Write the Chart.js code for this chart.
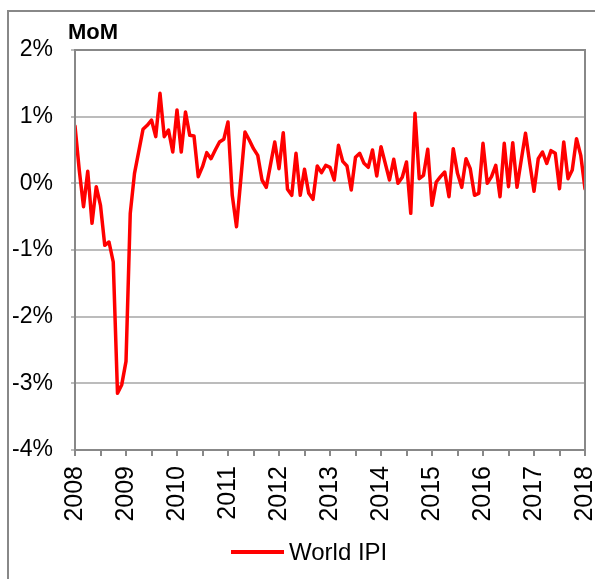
<!DOCTYPE html>
<html>
<head>
<meta charset="utf-8">
<script src="https://cdn.jsdelivr.net/npm/chart.js@4"></script>
<style>
  html, body { margin: 0; padding: 0; background: #fff; }
  #ipiChart { display: block; }
</style>
</head>
<body>
<canvas id="ipiChart" width="595" height="579"></canvas>
<script>
// World IPI, month on month % change, Jan 2008 .. Jan 2018
const startYear = 2008;
const ipiMoM = [
  0.86, 0.20, -0.35, 0.18, -0.60, -0.05, -0.33, -0.93, -0.88, -1.18, -3.15, -3.02,
  -2.67, -0.45, 0.15, 0.48, 0.81, 0.87, 0.95, 0.70, 1.35, 0.70, 0.80, 0.47,
  1.10, 0.47, 1.07, 0.72, 0.71, 0.10, 0.25, 0.46, 0.37, 0.50, 0.62, 0.66,
  0.92, -0.18, -0.65, 0.05, 0.77, 0.65, 0.52, 0.42, 0.05, -0.06, 0.28, 0.62,
  0.22, 0.76, -0.09, -0.18, 0.45, -0.18, 0.21, -0.15, -0.24, 0.26, 0.16, 0.27,
  0.24, 0.05, 0.57, 0.33, 0.26, -0.10, 0.39, 0.45, 0.30, 0.24, 0.50, 0.11,
  0.55, 0.30, 0.05, 0.36, 0.00, 0.09, 0.32, -0.45, 1.05, 0.07, 0.12, 0.51,
  -0.33, 0.02, 0.10, 0.17, -0.20, 0.52, 0.15, -0.06, 0.37, 0.22, -0.18, -0.15,
  0.60, 0.00, 0.10, 0.27, -0.20, 0.60, -0.05, 0.61, -0.06, 0.35, 0.75, 0.30,
  -0.12, 0.37, 0.47, 0.30, 0.49, 0.45, -0.08, 0.62, 0.07, 0.20, 0.67, 0.42,
  -0.08
];
const yearTicks = [2008, 2009, 2010, 2011, 2012, 2013, 2014, 2015, 2016, 2017, 2018];
const pctTicks = [-4, -3, -2, -1, 0, 1, 2];
const seriesName = 'World IPI';
const titleText = 'MoM';

const points = ipiMoM.map((v, i) => ({ x: startYear + i / 12, y: v }));

const axisGray = '#888888';
const gridGray = '#bcbcbc';
const font = 'Liberation Sans, Arial, sans-serif';

const framePlugin = {
  id: 'frame',
  beforeDraw(chart) {
    const ctx = chart.ctx;
    ctx.save();
    ctx.strokeStyle = axisGray;
    ctx.lineWidth = 2;
    ctx.beginPath();
    ctx.moveTo(8, 579);
    ctx.lineTo(8, 11);
    ctx.lineTo(595, 11);
    ctx.stroke();
    ctx.restore();
  },
  afterDraw(chart) {
    const ctx = chart.ctx;
    const a = chart.chartArea;
    ctx.save();
    ctx.strokeStyle = axisGray;
    ctx.lineWidth = 2;
    ctx.strokeRect(a.left, a.top, a.right - a.left, a.bottom - a.top);

    // title
    ctx.fillStyle = '#000';
    ctx.font = 'bold 22px ' + font;
    ctx.textBaseline = 'alphabetic';
    ctx.textAlign = 'left';
    ctx.fillText(titleText, 68, 39);

    // legend
    ctx.strokeStyle = '#ff0000';
    ctx.lineWidth = 4;
    ctx.beginPath();
    ctx.moveTo(231, 552);
    ctx.lineTo(284, 552);
    ctx.stroke();
    ctx.font = '24px ' + font;
    ctx.textBaseline = 'middle';
    ctx.fillText(seriesName, 289, 553);
    ctx.restore();
  }
};

new Chart(document.getElementById('ipiChart'), {
  type: 'line',
  data: {
    datasets: [{
      label: seriesName,
      data: points,
      borderColor: '#ff0000',
      borderWidth: 3.5,
      borderJoinStyle: 'round',
      borderCapStyle: 'round',
      pointRadius: 0,
      tension: 0,
      fill: false
    }]
  },
  options: {
    responsive: false,
    animation: false,
    layout: { padding: { left: 0, top: 50, right: 10, bottom: 0 } },
    plugins: {
      legend: { display: false },
      tooltip: { enabled: false }
    },
    scales: {
      x: {
        type: 'linear',
        min: yearTicks[0],
        max: yearTicks[yearTicks.length - 1],
        afterFit: s => {
          s.height = 129;
          s.paddingLeft = 0;
          s.paddingRight = 0;
        },
        afterBuildTicks: s => {
          const t = [];
          for (let v = yearTicks[0]; v <= yearTicks[yearTicks.length - 1]; v += 0.5) t.push({ value: v });
          s.ticks = t;
        },
        ticks: {
          autoSkip: false,
          minRotation: 90,
          maxRotation: 90,
          padding: 10,
          color: '#000',
          font: { family: font, size: 25 },
          callback: v => yearTicks.includes(v) ? String(v) : ''
        },
        grid: {
          display: true,
          drawOnChartArea: false,
          drawTicks: true,
          tickLength: 6,
          color: axisGray,
          lineWidth: 2
        },
        border: { color: axisGray, width: 2 }
      },
      y: {
        min: pctTicks[0],
        max: pctTicks[pctTicks.length - 1],
        afterFit: s => { s.width = 75; },
        ticks: {
          stepSize: 1,
          padding: 18,
          color: '#000',
          font: { family: font, size: 23 },
          callback: v => v + '%'
        },
        grid: {
          color: gridGray,
          lineWidth: 2,
          tickLength: 4
        },
        border: { color: axisGray, width: 2 }
      }
    }
  },
  plugins: [framePlugin]
});
</script>
</body>
</html>
